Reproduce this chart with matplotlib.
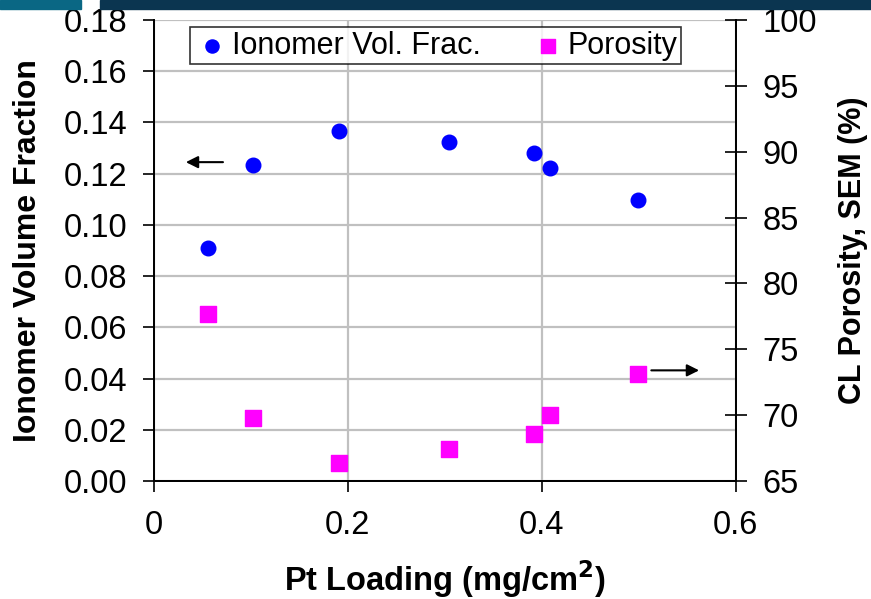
import matplotlib.pyplot as plt
from matplotlib.patches import Rectangle

plt.rcParams["font.family"] = ["Liberation Sans", "DejaVu Sans"]

# data
pt_loading = [0.056, 0.102, 0.191, 0.304, 0.392, 0.408, 0.499]
ionomer_frac = [0.091, 0.1234, 0.1367, 0.1325, 0.1281, 0.1222, 0.1097]
porosity = [77.7, 69.8, 66.4, 67.4, 68.6, 70.0, 73.1]

fig = plt.figure(figsize=(8.71, 5.99), dpi=100)
ax = fig.add_axes([0.1768, 0.197, 0.668, 0.7696])
ax2 = ax.twinx()

# decorative bars at the top
fig.patches.append(Rectangle((0, 1 - 9 / 599), 81 / 871, 9 / 599,
                             transform=fig.transFigure, color="#0a6784", zorder=0))
fig.patches.append(Rectangle((100 / 871, 1 - 9 / 599), 1, 9 / 599,
                             transform=fig.transFigure, color="#0b3550", zorder=0))

ax.set_xlim(0, 0.6)
ax.set_ylim(0, 0.18)
ax.set_xticks([0, 0.2, 0.4, 0.6])
ax.set_xticklabels(["0", "0.2", "0.4", "0.6"])
ax.set_yticks([i * 0.02 for i in range(10)])
ax.set_yticklabels([f"{i * 0.02:.2f}" for i in range(10)])
ax2.set_ylim(65, 100)
ax2.set_yticks(range(65, 101, 5))

ax.grid(True, color="#c0c0c0", lw=1.6)
ax.set_axisbelow(True)
for a in (ax, ax2):
    a.spines["top"].set_visible(False)
    for s in a.spines.values():
        s.set_linewidth(1.3)
ax.tick_params(axis="both", labelsize=23.5, direction="out", length=8, width=1.2, pad=11)
ax.tick_params(axis="x", pad=13)
ax2.tick_params(axis="y", labelsize=23.5, direction="inout", length=16, width=1.2, pad=11)

h1 = ax2.scatter(pt_loading, ionomer_frac, transform=ax.transData, s=110,
                 color="#0000ff", marker="o", label="Ionomer Vol. Frac.", zorder=3)
h2 = ax2.scatter(pt_loading, porosity, s=120, color="#ff00ff", marker="s",
                 label="Porosity", zorder=3)

ax.set_xlabel("Pt Loading (mg/cm$^\\mathbf{2}$)", fontsize=23.5, fontweight="bold", labelpad=12)
ax.set_ylabel("Ionomer Volume Fraction", fontsize=23, fontweight="bold", labelpad=15)
ax2.set_ylabel("CL Porosity, SEM (%)", fontsize=22, fontweight="bold", labelpad=15)

ax.annotate("", xy=(0.030, 0.1245), xytext=(0.074, 0.1245),
            arrowprops=dict(arrowstyle="-|>", color="black", lw=1.5, mutation_scale=18))
ax2.annotate("", xy=(0.565, 73.4), xytext=(0.510, 73.4),
             arrowprops=dict(arrowstyle="-|>", color="black", lw=1.5, mutation_scale=18))

leg = ax2.legend(handles=[h1, h2], loc="upper left", bbox_to_anchor=(0.062, 0.985),
                 ncol=2, fontsize=22, frameon=True, fancybox=False,
                 edgecolor="black", borderpad=0.12, handletextpad=0.05, handlelength=1.2,
                 columnspacing=1.6, markerscale=0.9, borderaxespad=0)
leg.get_frame().set_linewidth(1.2)

fig.savefig("out.png", dpi=100)
